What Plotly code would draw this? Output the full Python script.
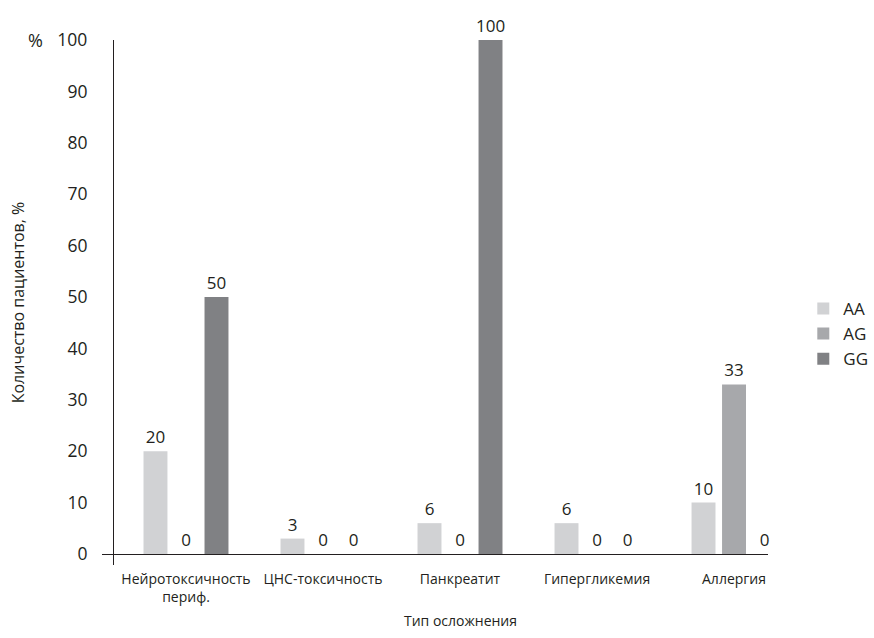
import plotly.graph_objects as go

categories = ["Нейротоксичность<br>периф.", "ЦНС-токсичность", "Панкреатит", "Гипергликемия", "Аллергия"]
series_names = ["AA", "AG", "GG"]
aa_values = [20, 3, 6, 6, 10]
ag_values = [0, 0, 0, 0, 33]
gg_values = [50, 0, 100, 0, 0]
y_ticks = [0, 10, 20, 30, 40, 50, 60, 70, 80, 90, 100]

colors = ["#d1d2d4", "#a7a8ab", "#808184"]
txt = "#231f20"
font_family = "Open Sans, Noto Sans, sans-serif"

x_pos = list(range(len(categories)))
fig = go.Figure()
for name, vals, col in zip(series_names, [aa_values, ag_values, gg_values], colors):
    fig.add_trace(go.Bar(
        name=name, x=x_pos, y=vals, marker=dict(color=col, line=dict(width=0)),
        text=[str(v) for v in vals], textposition="outside", cliponaxis=False,
        constraintext="none",
        textfont=dict(size=17, color=txt, family=font_family),
    ))

fig.update_layout(
    width=874, height=638,
    margin=dict(l=102, r=106, t=40, b=73, autoexpand=False),
    plot_bgcolor="white", paper_bgcolor="white",
    barmode="group", bargap=0.332, bargroupgap=0.215,
    font=dict(family=font_family, color=txt),
    showlegend=True,
    legend=dict(x=1.053, y=0.522, xanchor="left", yanchor="top",
                font=dict(size=17, color=txt), tracegroupgap=0, itemwidth=30),
    xaxis=dict(range=[-0.613, 4.248], tickvals=x_pos, ticktext=categories,
               showline=False, showgrid=False, zeroline=False, ticks="",
               ticklabelstandoff=4,
               tickfont=dict(size=14, color=txt)),
    yaxis=dict(range=[-2.14, 100], tickvals=y_ticks, showgrid=False,
               zeroline=True, zerolinecolor=txt, zerolinewidth=1.2,
               showline=True, linecolor=txt, linewidth=1.2,
               anchor="free", position=11/666, ticks="", ticklabelstandoff=22,
               tickfont=dict(size=17.5, color=txt),
               title=dict(text="Количество пациентов, %", font=dict(size=16, color=txt), standoff=27)),
    annotations=[
        dict(text="%", x=(35 - 102) / 666, xref="paper", xanchor="center", y=100, yref="y", yanchor="middle",
             showarrow=False, font=dict(size=18, color=txt)),
        dict(text="Тип осложнения", x=2, xref="x", y=-0.105, yref="paper", yanchor="middle",
             showarrow=False, font=dict(size=14, color=txt)),
    ],
)
fig.write_html("out.html", config={"displayModeBar": False},
               post_script="document.body.style.margin='0px';")
